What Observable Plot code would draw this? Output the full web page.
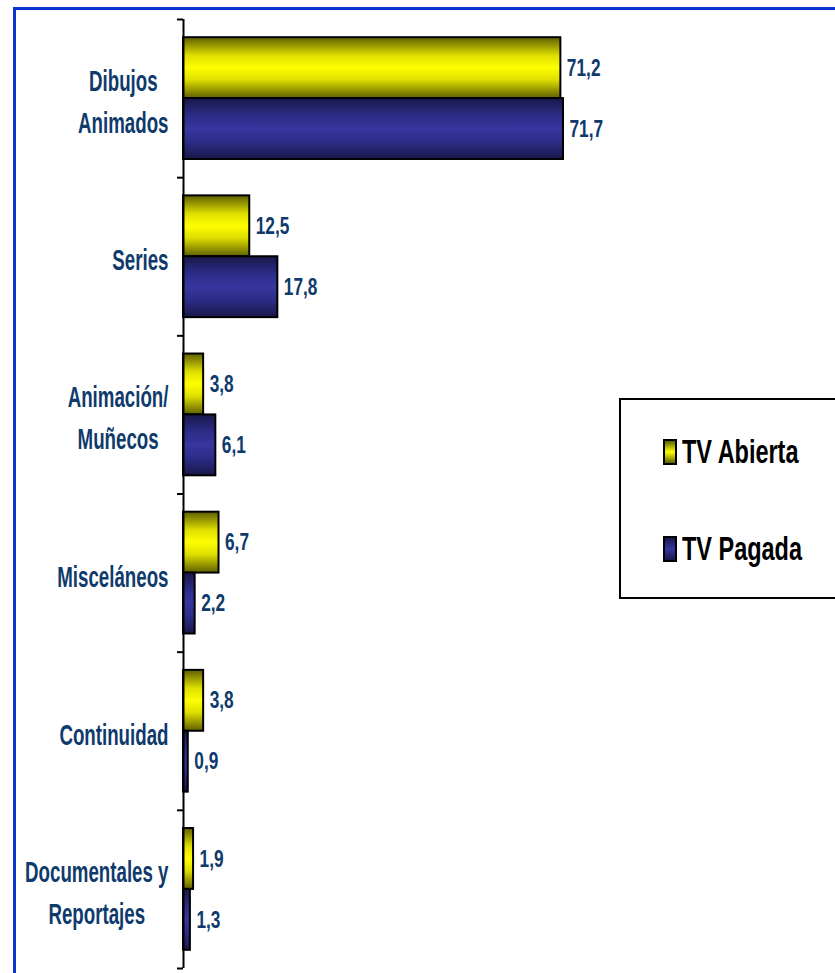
<!DOCTYPE html>
<html>
<head>
<meta charset="utf-8">
<script src="https://cdn.jsdelivr.net/npm/d3@7"></script>
<script src="https://cdn.jsdelivr.net/npm/@observablehq/plot@0.6"></script>
<style>
  html, body { margin: 0; padding: 0; background: #fff; overflow: hidden; }
  #wrap { position: relative; width: 835px; height: 973px; overflow: hidden; }
  #frame { position: absolute; left: 13px; top: 7px; width: 1000px; height: 1000px;
           border-top: 3px solid #0a35d0; border-left: 3px solid #0a35d0; pointer-events: none; z-index: 3; }
  #chart { position: absolute; left: 0; top: 0; }
  #legend { position: absolute; left: 619px; top: 398px; width: 260px; height: 197px;
            border: 2px solid #000; background: #fff; z-index: 2;
            font-family: "Liberation Sans", Arial, sans-serif; font-weight: bold; font-size: 34px; color: #000; }
  .item { position: absolute; left: 42px; display: flex; align-items: center; }
  .sw { width: 14px; height: 26px; border: 2px solid #000; margin-right: 5px; box-sizing: border-box; flex: none; }
  .lt { display: inline-block; transform: scaleX(0.69); transform-origin: left center; white-space: nowrap; }
</style>
</head>
<body>
<div id="wrap">
  <div id="chart"></div>
  <div id="legend"></div>
  <div id="frame"></div>
</div>
<script>
const categories = ["Dibujos\nAnimados", "Series", "Animación/\nMuñecos", "Misceláneos", "Continuidad", "Documentales y\nReportajes"];
const tvAbierta = [71.2, 12.5, 3.8, 6.7, 3.8, 1.9];
const tvPagada = [71.7, 17.8, 6.1, 2.2, 0.9, 1.3];
const seriesNames = ["TV Abierta", "TV Pagada"];

const navy = "#0f3a6c";
const fontFam = '"Liberation Sans", Arial, sans-serif';
const fmt = v => v.toFixed(1).replace(".", ",");
const squeezeCat = 0.645;
const squeezeVal = 0.72;

const rows = categories.map((c, i) => ({cat: c, i, abierta: tvAbierta[i], pagada: tvPagada[i]}));

const gap = 0.115;
const chart = Plot.plot({
  width: 835,
  height: 973,
  marginLeft: 183,
  marginRight: 228,
  marginTop: 19,
  marginBottom: 5,
  style: {background: "transparent", fontFamily: fontFam},
  x: {domain: [0, 80], axis: null},
  y: {domain: [0, 6], range: [19, 968], axis: null},
  marks: [
    Plot.rectX(rows, {x1: 0, x2: "abierta", y1: d => d.i + gap, y2: d => d.i + 0.5,
      fill: "url(#gradYellow)", stroke: "#000", strokeWidth: 2}),
    Plot.rectX(rows, {x1: 0, x2: "pagada", y1: d => d.i + 0.5, y2: d => d.i + 1 - gap,
      fill: "url(#gradBlue)", stroke: "#000", strokeWidth: 2}),
    Plot.ruleX([0], {stroke: "#000", strokeWidth: 2}),
    Plot.axisY({ticks: d3.range(0, 7), tickFormat: () => "", tickSize: 6, label: null, stroke: "#000", strokeWidth: 2}),
    Plot.text(rows, {x: 0, y: d => d.i + 0.5, text: "cat", textAnchor: "end", dx: -15,
      lineHeight: 1.45, fontSize: 29, fontWeight: "bold", fill: navy, className: "catlabel"}),
    Plot.text(rows, {x: "abierta", y: d => d.i + (gap + 0.5) / 2, text: d => fmt(d.abierta),
      textAnchor: "start", dx: 6, fontSize: 24, fontWeight: "bold", fill: navy, className: "vallabel"}),
    Plot.text(rows, {x: "pagada", y: d => d.i + (0.5 + 1 - gap) / 2, text: d => fmt(d.pagada),
      textAnchor: "start", dx: 6, fontSize: 24, fontWeight: "bold", fill: navy, className: "vallabel"})
  ]
});

// gradients
const svg = d3.select(chart);
const defs = svg.insert("defs", ":first-child");
function grad(id, edge, mid, center) {
  const g = defs.append("linearGradient").attr("id", id).attr("x1", 0).attr("y1", 0).attr("x2", 0).attr("y2", 1);
  [[0, edge], [0.3, mid], [0.5, center], [0.7, mid], [1, edge]].forEach(([o, c]) =>
    g.append("stop").attr("offset", o).attr("stop-color", c));
}
grad("gradYellow", "#5e5e00", "#dede00", "#ffff00");
grad("gradBlue", "#18184a", "#2d2d8a", "#36369e");

document.getElementById("chart").appendChild(chart);

// condensed look: center multi-line category labels and squeeze horizontally
d3.selectAll(".catlabel text").each(function() {
  const w = this.getBBox().width * squeezeCat;
  this.setAttribute("text-anchor", "middle");
  this.setAttribute("transform", (this.getAttribute("transform") || "") + ` translate(${-w / 2},0) scale(${squeezeCat},1)`);
});
d3.selectAll(".vallabel text").each(function() {
  this.setAttribute("transform", (this.getAttribute("transform") || "") + ` scale(${squeezeVal},1)`);
});

// legend
const legend = d3.select("#legend");
const swatchBg = ["linear-gradient(#5e5e00, #ffff00 50%, #5e5e00)", "linear-gradient(#18184a, #36369e 50%, #18184a)"];
const legendTop = [32, 129];
seriesNames.forEach((s, k) => {
  const it = legend.append("div").attr("class", "item").style("top", legendTop[k] + "px");
  it.append("div").attr("class", "sw").style("background", swatchBg[k]);
  it.append("span").attr("class", "lt").text(s);
});
</script>
</body>
</html>
